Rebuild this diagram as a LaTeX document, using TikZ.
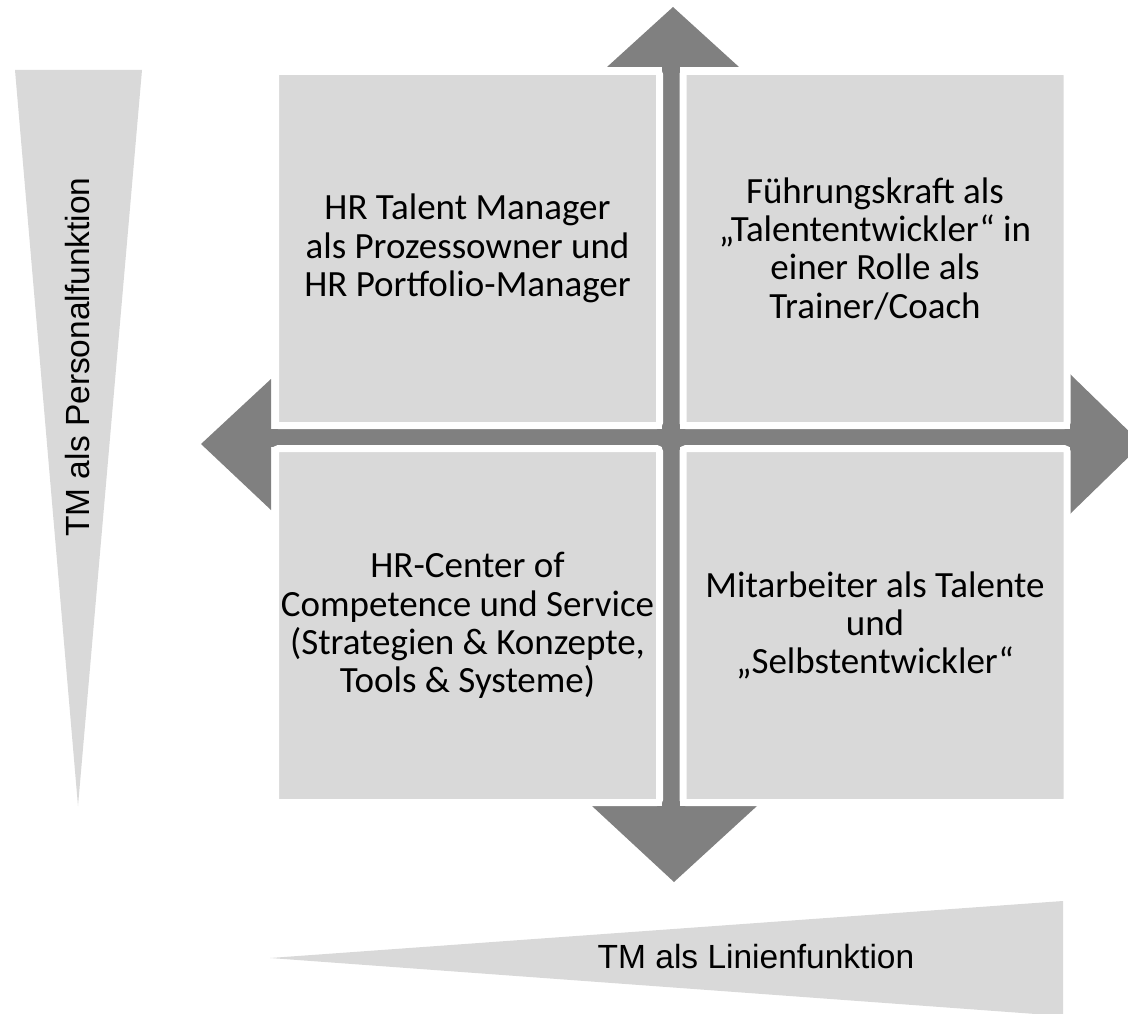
\documentclass[tikz,border=0pt]{standalone}
\usepackage{fontspec}
\setmainfont{Carlito}
\newfontfamily\labelfont{Liberation Sans}
\definecolor{boxgrey}{HTML}{D9D9D9}
\definecolor{crossgrey}{HTML}{808080}
\tikzset{
  quad/.style={fill=boxgrey, draw=white, line width=7pt, rounded corners=3pt,
    minimum width=384pt, minimum height=354pt, inner sep=0pt,
    align=center, text=black, font=\fontsize{37}{38.3}\selectfont},
  wedge/.style={fill=boxgrey, draw=none},
  axislabel/.style={text=black, font=\labelfont\fontsize{33.5}{36}\selectfont, inner sep=0pt},
  shaft/.style={fill=crossgrey, draw=none},
}
\begin{document}
\begin{tikzpicture}[x=1pt, y=-1pt]
\useasboundingbox (0,0) rectangle (1128,1014);
\clip (0,0) rectangle (1128,1014);

% wedges behind the axis labels
\coordinate (vtl) at (15,70);
\coordinate (vtr) at (142,70);
\coordinate (vtip) at (78,806);
\fill[wedge] (vtl) -- (vtr) -- (vtip) -- cycle;
\coordinate (htip) at (270,958);
\coordinate (htop) at (1063,901);
\coordinate (hbot) at (1063,1016);
\fill[wedge] (htip) -- (htop) -- (hbot) -- cycle;

\node[axislabel, rotate=90] (personal) at (78,357) {TM als Personalfunktion};
\node[axislabel] (linie) at (756,957) {TM als Linienfunktion};

% the two double arrows forming the cross
\coordinate (c) at (671,438);
\fill[shaft] (662,60) rectangle (680,810);
\fill[shaft] (265,429) rectangle (1075,447);
\coordinate (uptip) at (673,7);
\fill[shaft] (607,67) -- (uptip) -- (739,67) -- cycle;
\coordinate (downtip) at (674,882);
\fill[shaft] (592,806) -- (downtip) -- (757,806) -- cycle;
\coordinate (lefttip) at (201,444);
\fill[shaft] (271,379) -- (lefttip) -- (271,510) -- cycle;
\coordinate (righttip) at (1142,444);
\fill[shaft] (1070,374) -- (righttip) -- (1070,514) -- cycle;

% four quadrants
\node[quad] (tl) at (467.5,248.5) {HR Talent Manager\\als Prozessowner und\\HR Portfolio-Manager};
\node[quad] (tr) at (875,248.5) {Führungskraft als\\„Talententwickler“ in\\einer Rolle als\\Trainer/Coach};
\node[quad] (bl) at (467.5,625.5) {HR-Center of\\Competence und Service\\(Strategien \& Konzepte,\\Tools \& Systeme)};
\node[quad] (br) at (875,625.5) {Mitarbeiter als Talente\\und\\„Selbstentwickler“};
\end{tikzpicture}
\end{document}
